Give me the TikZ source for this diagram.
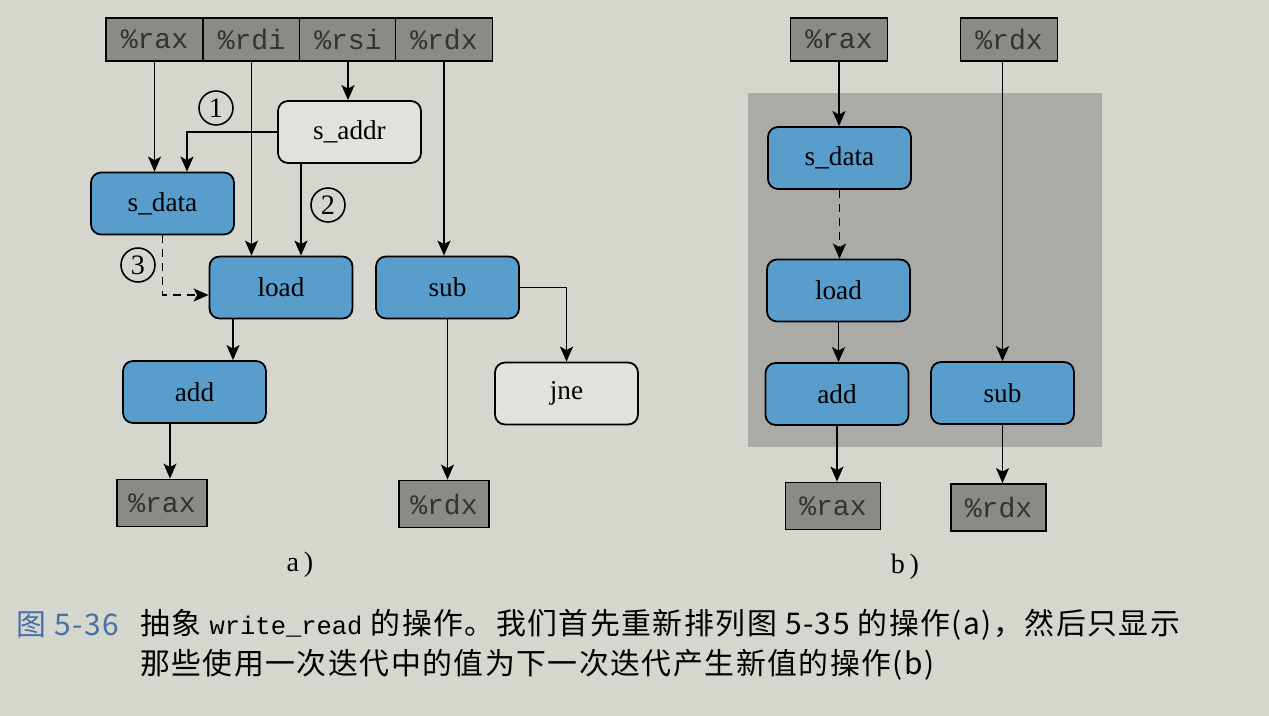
\documentclass[tikz,border=0pt]{standalone}
\usepackage{fontspec}
\setmainfont{Liberation Serif}
\setmonofont{Liberation Mono}
\newfontfamily\cjk[LetterSpace=5]{Noto Sans CJK SC}
\usepackage{tikz}
\usetikzlibrary{arrows.meta,positioning,calc,backgrounds}

\definecolor{paper}{RGB}{213,214,206}
\definecolor{opblue}{RGB}{88,157,204}
\definecolor{reggray}{RGB}{138,138,134}
\definecolor{loopgray}{RGB}{170,170,166}
\definecolor{capblue}{RGB}{72,112,168}

\tikzset{
  reg/.style={draw,line width=1pt,fill=reggray,inner sep=0pt,minimum width=1.94cm,minimum height=0.86cm,text=black!80,font=\fontsize{16}{18}\selectfont\ttfamily},
  regs/.style={reg,minimum width=1.8cm,minimum height=0.94cm},
  op/.style={draw,line width=1pt,rounded corners=0.2cm,fill=opblue,minimum width=2.86cm,minimum height=1.24cm,font=\fontsize{15.5}{18}\selectfont},
  opwhite/.style={op,fill=paper!70!white},
  num/.style={draw,circle,line width=0.9pt,inner sep=0pt,minimum size=0.68cm,font=\fontsize{16}{18}\selectfont},
  flow/.style={line width=1pt,-{Stealth[length=0.3cm,width=0.26cm,inset=0.07cm]}},
  flowdash/.style={flow,dash pattern=on 0.16cm off 0.12cm},
}

\begin{document}
\begin{tikzpicture}[x=0.02cm,y=-0.02cm]
\fill[paper] (0,0) rectangle (1269,716);
\useasboundingbox (0,0) rectangle (1269,716);

% a) rearranged operations
\node[reg] (rax) at (154.5,39.5) {\%rax};
\node[reg] (rdi) at (251.5,39.5) {\%rdi};
\node[reg] (rsi) at (348,39.5) {\%rsi};
\node[reg] (rdx) at (444,39.5) {\%rdx};
\node[opwhite] (saddr) at (349.5,132) {s\_addr};
\node[op] (sdata) at (162.5,203.5) {s\_data};
\node[op] (load) at (281,287.5) {load};
\node[op] (sub) at (447.5,287.5) {sub};
\node[op] (add) at (194.5,392) {add};
\node[opwhite] (jne) at (566.5,393.5) {jne};
\node[regs] (raxo) at (162,503) {\%rax};
\node[regs] (rdxo) at (444,504) {\%rdx};
\node[num] (n1) at (216,108) {1};
\node[num] (n2) at (328,205) {2};
\node[num] (n3) at (138,265) {3};
\draw[flow] (rax.south) -- (rax.south |- sdata.north);
\draw[flow] (rdi.south) -- (rdi.south |- load.north);
\draw[flow] (rsi.south) -- (rsi.south |- saddr.north);
\draw[flow] (rdx.south) -- (rdx.south |- sub.north);
\draw[flow] (saddr.west) -| ([xshift=0.49cm]sdata.north);
\draw[flow] ([xshift=-0.97cm]saddr.south) -- ([xshift=-0.97cm]saddr.south |- load.north);
\draw[flowdash] (sdata.south) |- ([yshift=-0.15cm]load.west);
\draw[flow] ([xshift=-0.96cm]load.south) -- ([xshift=-0.96cm]load.south |- add.north);
\draw[flow] ([xshift=-0.49cm]add.south) -- ([xshift=-0.49cm]add.south |- raxo.north);
\draw[flow] (sub.south) -- (sub.south |- rdxo.north);
\draw[flow] (sub.east) -| (jne.north);
\node[font=\fontsize{16}{18}\selectfont] (la) at (300,565) {a\,)};

% b) only the loop-carried operations
\fill[loopgray] (748,93) rectangle (1102,447);
\node[reg] (brax) at (839,39.5) {\%rax};
\node[reg] (brdx) at (1009,39.5) {\%rdx};
\node[op] (bsdata) at (839.5,158) {s\_data};
\node[op] (bload) at (838.5,290.5) {load};
\node[op] (badd) at (837,394) {add};
\node[op] (bsub) at (1002.5,393) {sub};
\node[regs,minimum width=1.9cm] (braxo) at (833,506) {\%rax};
\node[regs,minimum width=1.9cm] (brdxo) at (998.5,507.5) {\%rdx};
\draw[flow] (brax.south) -- (brax.south |- bsdata.north);
\draw[flowdash] (bsdata.south) -- (bsdata.south |- bload.north);
\draw[flow] (bload.south) -- (bload.south |- badd.north);
\draw[flow] (bsub.north |- brdx.south) -- (bsub.north);
\draw[flow] (badd.south) -- (badd.south |- braxo.north);
\draw[flow] (bsub.south) -- (bsub.south |- brdxo.north);
\node[font=\fontsize{16}{18}\selectfont] (lb) at (905,567) {b\,)};

% caption
\node[anchor=west,text=capblue,font=\cjk\fontsize{17}{22}\selectfont] (fignum) at (10,625) {图 5-36};
\node[anchor=west,font=\cjk\fontsize{17}{22}\selectfont] (cap1) at (134,625) {抽象 {\ttfamily\fontsize{14.5}{22}\selectfont write\_read} 的操作。我们首先重新排列图 5-35 的操作(a)，然后只显示};
\node[anchor=west,font=\cjk\fontsize{17}{22}\selectfont] (cap2) at (134,665) {那些使用一次迭代中的值为下一次迭代产生新值的操作(b)};
\end{tikzpicture}
\end{document}
